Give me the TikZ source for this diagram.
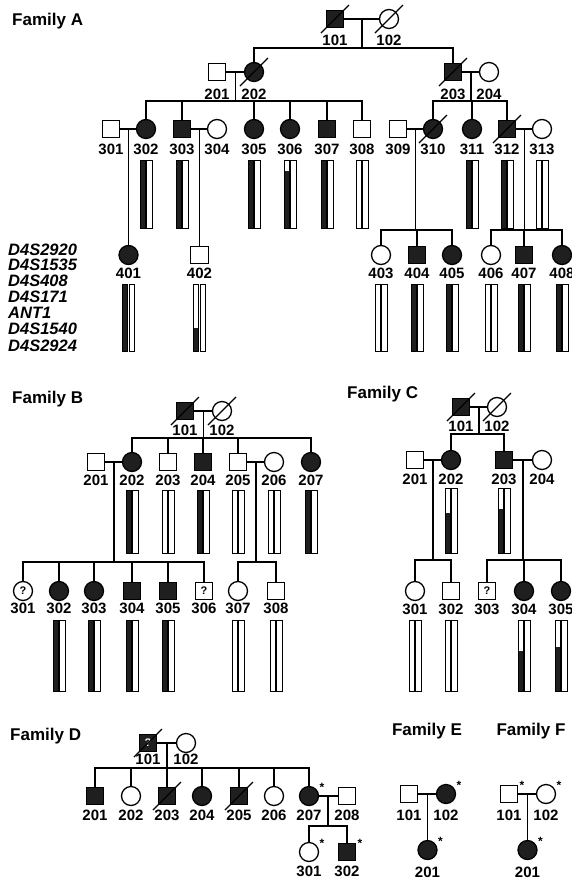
\documentclass[tikz,border=0pt]{standalone}
\usepackage{fontspec}
\setmainfont{Liberation Sans}
\usetikzlibrary{calc}
\newcommand\labfont{\fontsize{15}{15}\selectfont\bfseries}
\newcommand\ttlfont{\fontsize{17}{17}\selectfont\bfseries}
\newcommand\mkfont{\fontsize{16.5}{16.5}\selectfont\bfseries\itshape}
\newcommand\qmfont{\fontsize{11}{11}\selectfont\bfseries}
\newcommand\astfont{\fontsize{12}{12}\selectfont\bfseries}
\tikzset{
  ind/.style={draw=black, line width=1.3pt, inner sep=0pt, outer sep=0pt, fill=white},
  male/.style={ind, rectangle, minimum size=17.5pt},
  fem/.style={ind, circle, minimum size=19pt},
  aff/.style={fill=black!88},
  qm/.style={font=\qmfont},
  lab/.style={font=\labfont, inner sep=0pt},
  ttl/.style={font=\ttlfont, inner sep=0pt, anchor=west},
  mk/.style={font=\mkfont, inner sep=0pt, anchor=west},
  ln/.style={line width=1.3pt},
  barln/.style={line width=1pt},
  ast/.style={font=\astfont, inner sep=0pt},
  dead/.style={line width=1.2pt},
}
\newcommand\pers[7]{\node[#2] (#1) at (#3,#4) {#5}; \node[lab] (l#1) at (#3,#6) {#7};}
\newcommand\dslash[1]{\draw[dead] ([shift={(-14,14)}]#1.center) -- ([shift={(14,-14)}]#1.center);}
\newcommand\astr[1]{\node[ast] (s#1) at ([shift={(13,-9)}]#1.center) {*};}
\newcommand\hpair[4]{%
  \fill[black!88] ({#1-6},#4) rectangle ({#1-0.8},#3);
  \draw[barln] ({#1-6},#2) rectangle ({#1-0.8},#3);
  \draw[barln] ({#1+0.8},#2) rectangle ({#1+6},#3);}
\begin{document}
\begin{tikzpicture}[x=1pt,y=-1pt]
\useasboundingbox (0,0) rectangle (571,879);
\fill[white] (0,0) rectangle (571,879);

% ================= Family A =================
\node[ttl] (tA) at (12,21) {Family A};
\pers{A101}{male,aff}{335}{19}{}{40}{101}
\pers{A102}{fem}{389}{19}{}{40}{102}
\pers{A201}{male}{217}{72}{}{94}{201}
\pers{A202}{fem,aff}{254}{72}{}{94}{202}
\pers{A203}{male,aff}{453}{72}{}{94}{203}
\pers{A204}{fem}{489}{72}{}{94}{204}
\pers{A301}{male}{111}{129}{}{149}{301}
\pers{A302}{fem,aff}{146}{129}{}{149}{302}
\pers{A303}{male,aff}{182}{129}{}{149}{303}
\pers{A304}{fem}{217}{129}{}{149}{304}
\pers{A305}{fem,aff}{254}{129}{}{149}{305}
\pers{A306}{fem,aff}{290}{129}{}{149}{306}
\pers{A307}{male,aff}{327}{129}{}{149}{307}
\pers{A308}{male}{362}{129}{}{149}{308}
\pers{A309}{male}{398}{129}{}{149}{309}
\pers{A310}{fem,aff}{433}{129}{}{149}{310}
\pers{A311}{fem,aff}{472}{129}{}{149}{311}
\pers{A312}{male,aff}{507}{129}{}{149}{312}
\pers{A313}{fem}{542}{129}{}{149}{313}
\pers{A401}{fem,aff}{128.5}{255}{}{273}{401}
\pers{A402}{male}{199.5}{255}{}{273}{402}
\pers{A403}{fem}{381}{255}{}{273}{403}
\pers{A404}{male,aff}{417}{255}{}{273}{404}
\pers{A405}{fem,aff}{452}{255}{}{273}{405}
\pers{A406}{fem}{491}{255}{}{273}{406}
\pers{A407}{male,aff}{524}{255}{}{273}{407}
\pers{A408}{fem,aff}{562}{255}{}{273}{408}
\foreach \p in {A101,A102,A202,A203,A310,A312} {\dslash{\p}}

\coordinate (sA1) at (362,48);
\coordinate (sA2) at (235.5,101);
\coordinate (sA5) at (471,101);
\coordinate (sA3) at (415.5,230);
\coordinate (sA4) at (524.5,230);
\draw[ln] (A101) -- (A102);
\draw[ln] ($(A101)!0.5!(A102)$) -- (sA1);
\draw[ln] (A202.north) |- (sA1) -| (A203.north);
\draw[ln] (A201) -- (A202);
\draw[ln] ($(A201)!0.5!(A202)$) -- (sA2);
\draw[ln] (A203) -- (A204);
\draw[ln] ($(A203)!0.5!(A204)$) -- (sA5);
\draw[ln] (A302.north) |- (sA2) -| (A308.north);
\foreach \p in {A303,A305,A306,A307} {\draw[ln] (\p.north) -- (\p.north |- sA2);}
\draw[ln] (A310.north) |- (sA5) -| (A312.north);
\draw[ln] (A311.north) -- (A311.north |- sA5);
\draw[ln] (A301) -- (A302);
\draw[ln] ($(A301)!0.5!(A302)$) -- (A401);
\draw[ln] (A303) -- (A304);
\draw[ln] ($(A303)!0.5!(A304)$) -- (A402);
\draw[ln] (A309) -- (A310);
\draw[ln] ($(A309)!0.5!(A310)$) -- (sA3);
\draw[ln] (A403.north) |- (sA3) -| (A405.north);
\draw[ln] (A404.north) -- (A404.north |- sA3);
\draw[ln] (A312) -- (A313);
\draw[ln] ($(A312)!0.5!(A313)$) -- (sA4);
\draw[ln] (A406.north) |- (sA4) -| (A408.north);
\draw[ln] (A407.north) -- (A407.north |- sA4);

\hpair{146}{160}{228}{160}
\hpair{182}{160}{228}{160}
\hpair{254}{160}{228}{160}
\hpair{290}{160}{228}{171}
\hpair{327}{160}{228}{160}
\hpair{362}{160}{228}{228}
\hpair{472}{160}{228}{160}
\hpair{507}{160}{228}{160}
\hpair{542}{160}{228}{228}
\hpair{128.5}{284}{351}{284}
\hpair{199.5}{284}{351}{328}
\hpair{381}{284}{351}{351}
\hpair{417}{284}{351}{284}
\hpair{452}{284}{351}{284}
\hpair{491}{284}{351}{351}
\hpair{524}{284}{351}{284}
\hpair{562}{284}{351}{284}

\node[mk] (m1) at (8,250) {D4S2920};
\node[mk] (m2) at (8,265) {D4S1535};
\node[mk] (m3) at (8,281) {D4S408};
\node[mk] (m4) at (8,297) {D4S171};
\node[mk] (m5) at (8,313) {ANT1};
\node[mk] (m6) at (8,329) {D4S1540};
\node[mk] (m7) at (8,346) {D4S2924};

% ================= Family B =================
\node[ttl] (tB) at (12,399) {Family B};
\pers{B101}{male,aff}{185}{411}{}{430}{101}
\pers{B102}{fem}{222}{411}{}{430}{102}
\pers{B201}{male}{96}{462}{}{480}{201}
\pers{B202}{fem,aff}{132}{462}{}{480}{202}
\pers{B203}{male}{168}{462}{}{480}{203}
\pers{B204}{male,aff}{203}{462}{}{480}{204}
\pers{B205}{male}{238}{462}{}{480}{205}
\pers{B206}{fem}{274}{462}{}{480}{206}
\pers{B207}{fem,aff}{311}{462}{}{480}{207}
\pers{B301}{fem,qm}{23}{591}{?}{608}{301}
\pers{B302}{fem,aff}{59}{591}{}{608}{302}
\pers{B303}{fem,aff}{94}{591}{}{608}{303}
\pers{B304}{male,aff}{132}{591}{}{608}{304}
\pers{B305}{male,aff}{168}{591}{}{608}{305}
\pers{B306}{male,qm}{204}{591}{?}{608}{306}
\pers{B307}{fem}{238}{591}{}{608}{307}
\pers{B308}{male}{276}{591}{}{608}{308}
\dslash{B101}\dslash{B102}
\coordinate (sB1) at (203.5,438);
\coordinate (sB2) at (114,562);
\coordinate (sB3) at (256,562);
\draw[ln] (B101) -- (B102);
\draw[ln] ($(B101)!0.5!(B102)$) -- (sB1);
\draw[ln] (B202.north) |- (sB1) -| (B207.north);
\foreach \p in {B203,B204,B205} {\draw[ln] (\p.north) -- (\p.north |- sB1);}
\draw[ln] (B201) -- (B202);
\draw[ln] ($(B201)!0.5!(B202)$) -- (sB2);
\draw[ln] (B301.north) |- (sB2) -| (B306.north);
\foreach \p in {B302,B303,B304,B305} {\draw[ln] (\p.north) -- (\p.north |- sB2);}
\draw[ln] (B205) -- (B206);
\draw[ln] ($(B205)!0.5!(B206)$) -- (sB3);
\draw[ln] (B307.north) |- (sB3) -| (B308.north);
\hpair{132}{490}{553}{490}
\hpair{168}{490}{553}{553}
\hpair{203}{490}{553}{490}
\hpair{238}{490}{553}{553}
\hpair{274}{490}{553}{553}
\hpair{311}{490}{553}{490}
\hpair{59}{620}{691}{620}
\hpair{94}{620}{691}{620}
\hpair{132}{620}{691}{620}
\hpair{168}{620}{691}{620}
\hpair{238}{620}{691}{691}
\hpair{276}{620}{691}{691}

% ================= Family C =================
\node[ttl] (tC) at (347,394) {Family C};
\pers{C101}{male,aff}{461}{407}{}{426}{101}
\pers{C102}{fem}{497}{407}{}{426}{102}
\pers{C201}{male}{415}{460}{}{479}{201}
\pers{C202}{fem,aff}{451}{460}{}{479}{202}
\pers{C203}{male,aff}{504}{460}{}{479}{203}
\pers{C204}{fem}{542}{460}{}{479}{204}
\pers{C301}{fem}{415}{591}{}{609}{301}
\pers{C302}{male}{451}{591}{}{609}{302}
\pers{C303}{male,qm}{487}{591}{?}{609}{303}
\pers{C304}{fem,aff}{524}{591}{}{609}{304}
\pers{C305}{fem,aff}{561}{591}{}{609}{305}
\dslash{C101}\dslash{C102}
\coordinate (sC1) at (479,434);
\coordinate (sC2) at (433,560);
\coordinate (sC3) at (523,560);
\draw[ln] (C101) -- (C102);
\draw[ln] ($(C101)!0.5!(C102)$) -- (sC1);
\draw[ln] (C202.north) |- (sC1) -| (C203.north);
\draw[ln] (C201) -- (C202);
\draw[ln] ($(C201)!0.5!(C202)$) -- (sC2);
\draw[ln] (C301.north) |- (sC2) -| (C302.north);
\draw[ln] (C203) -- (C204);
\draw[ln] ($(C203)!0.5!(C204)$) -- (sC3);
\draw[ln] (C303.north) |- (sC3) -| (C305.north);
\draw[ln] (C304.north) -- (C304.north |- sC3);
\hpair{451}{488}{553}{513}
\hpair{504}{488}{553}{509}
\hpair{415}{620}{691}{691}
\hpair{451}{620}{691}{691}
\hpair{524}{620}{691}{651}
\hpair{561}{620}{691}{647}

% ================= Family D =================
\node[ttl] (tD) at (10,736) {Family D};
\pers{D101}{male,aff,qm,text=white}{148}{743}{?}{759}{101}
\pers{D102}{fem}{186}{743}{}{759}{102}
\pers{D201}{male,aff}{95}{796}{}{815}{201}
\pers{D202}{fem}{131}{796}{}{815}{202}
\pers{D203}{male,aff}{167}{796}{}{815}{203}
\pers{D204}{fem,aff}{202}{796}{}{815}{204}
\pers{D205}{male,aff}{239}{796}{}{815}{205}
\pers{D206}{fem}{274}{796}{}{815}{206}
\pers{D207}{fem,aff}{309}{796}{}{815}{207}
\pers{D208}{male}{347}{796}{}{815}{208}
\pers{D301}{fem}{309}{852}{}{871}{301}
\pers{D302}{male,aff}{347}{852}{}{871}{302}
\dslash{D101}\dslash{D203}\dslash{D205}
\astr{D207}\astr{D301}\astr{D302}
\coordinate (sD1) at (167,768);
\coordinate (sD2) at (328,826);
\draw[ln] (D101) -- (D102);
\draw[ln] ($(D101)!0.5!(D102)$) -- (sD1);
\draw[ln] (D201.north) |- (sD1) -| (D207.north);
\foreach \p in {D202,D203,D204,D205,D206} {\draw[ln] (\p.north) -- (\p.north |- sD1);}
\draw[ln] (D207) -- (D208);
\draw[ln] ($(D207)!0.5!(D208)$) -- (sD2);
\draw[ln] (D301.north) |- (sD2) -| (D302.north);

% ================= Family E =================
\node[ttl,anchor=center] (tE) at (427,731) {Family E};
\pers{E101}{male}{409}{794}{}{815}{101}
\pers{E102}{fem,aff}{446}{794}{}{815}{102}
\pers{E201}{fem,aff}{427.5}{850}{}{872}{201}
\astr{E102}\astr{E201}
\draw[ln] (E101) -- (E102);
\draw[ln] ($(E101)!0.5!(E102)$) -- (E201);

% ================= Family F =================
\node[ttl,anchor=center] (tF) at (531,731) {Family F};
\pers{F101}{male}{509}{794}{}{815}{101}
\pers{F102}{fem}{546}{794}{}{815}{102}
\pers{F201}{fem,aff}{527.5}{850}{}{872}{201}
\astr{F101}\astr{F102}\astr{F201}
\draw[ln] (F101) -- (F102);
\draw[ln] ($(F101)!0.5!(F102)$) -- (F201);
\end{tikzpicture}
\end{document}
